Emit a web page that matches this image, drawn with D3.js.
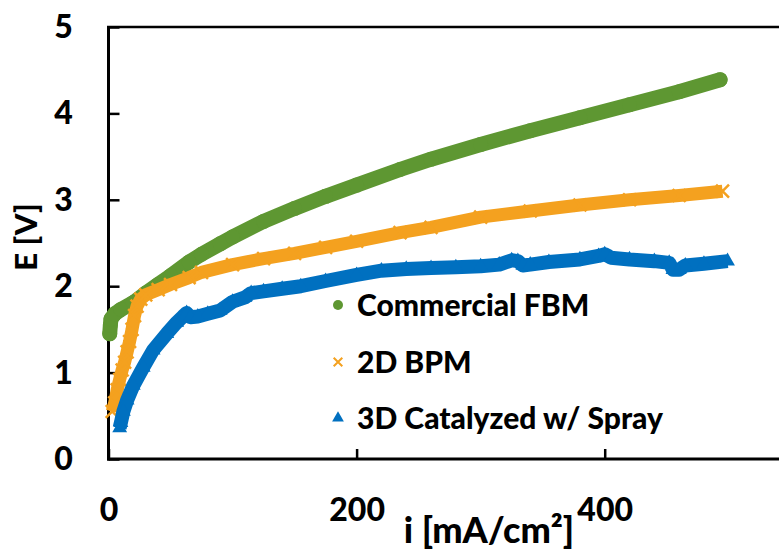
<!DOCTYPE html>
<html>
<head>
<meta charset="utf-8">
<script src="https://cdn.jsdelivr.net/npm/d3@7"></script>
<style>
  html, body { margin: 0; padding: 0; background: #fff; }
  svg { display: block; }
  text { font-family: Lato, "Open Sans", sans-serif; font-weight: 900; fill: #000; }
</style>
</head>
<body>
<svg id="chart" width="779" height="552"></svg>
<script>
// ---- data ----
const seriesNames = ["Commercial FBM", "2D BPM", "3D Catalyzed w/ Spray"];

const currentFBM = [1, 1.5, 2, 5, 10, 20, 30, 40, 50, 65, 75, 90, 100, 125, 150, 175, 200, 235, 260, 300, 340, 380, 420, 460, 493];
const voltageFBM = [1.45, 1.55, 1.62, 1.68, 1.73, 1.81, 1.92, 2.02, 2.12, 2.28, 2.37, 2.49, 2.57, 2.75, 2.9, 3.04, 3.17, 3.35, 3.47, 3.64, 3.8, 3.95, 4.1, 4.25, 4.39];

const currentBPM = [3, 5, 7, 9, 11, 13, 15, 17, 19, 21, 23, 26, 30, 40, 50, 65, 75, 100, 125, 150, 175, 200, 235, 260, 300, 340, 380, 420, 460, 495];
const voltageBPM = [0.55, 0.65, 0.8, 0.92, 1.03, 1.12, 1.24, 1.36, 1.5, 1.66, 1.77, 1.85, 1.9, 1.96, 2.02, 2.1, 2.16, 2.25, 2.32, 2.38, 2.45, 2.52, 2.62, 2.68, 2.8, 2.87, 2.94, 3.0, 3.05, 3.1];

const currentSpray = [9, 10, 12, 15, 20, 28, 36, 47, 55, 60, 63, 66, 72, 80, 90, 100, 110, 115, 125, 140, 155, 175, 200, 220, 240, 260, 280, 300, 315, 325, 330, 334, 340, 355, 380, 395, 400, 405, 420, 440, 452, 455, 460, 465, 480, 499];
const voltageSpray = [0.36, 0.42, 0.55, 0.68, 0.85, 1.06, 1.26, 1.45, 1.58, 1.65, 1.69, 1.64, 1.65, 1.68, 1.72, 1.82, 1.87, 1.92, 1.94, 1.97, 2.0, 2.06, 2.13, 2.18, 2.2, 2.21, 2.22, 2.23, 2.25, 2.3, 2.29, 2.24, 2.25, 2.28, 2.31, 2.35, 2.37, 2.33, 2.31, 2.29, 2.27, 2.19, 2.19, 2.24, 2.26, 2.29];

const xTicks = [0, 200, 400];
const yTicks = [0, 1, 2, 3, 4, 5];
const xTitle = "i [mA/cm²]";
const yTitle = "E [V]";

// ---- layout ----
const svg = d3.select("#chart");
const x = d3.scaleLinear().domain([0, 540.5]).range([108.5, 779]);
const y = d3.scaleLinear().domain([0, 5]).range([459, 27]);

const colors = ["#5E9732", "#F4A11F", "#0070C0"];
const mk = (xs, ys) => xs.map((v, i) => ({ x: v, y: ys[i] }));
const series = [
  { name: seriesNames[0], data: mk(currentFBM, voltageFBM), color: colors[0], type: "circle", width: 15 },
  { name: seriesNames[1], data: mk(currentBPM, voltageBPM), color: colors[1], type: "cross", width: 13 },
  { name: seriesNames[2], data: mk(currentSpray, voltageSpray), color: colors[2], type: "triangle", width: 14 }
];

// axes
const yAxis = d3.axisLeft(y).tickValues(yTicks).tickSize(0).tickPadding(0).tickFormat(d3.format("d"));
const gy = svg.append("g").attr("transform", `translate(${x(0)},0)`).call(yAxis);
gy.select(".domain").remove();
gy.selectAll(".tick text").attr("x", -45).attr("text-anchor", "middle").attr("dy", "0.33em")
  .style("font-size", "32px").style("font-family", "Lato").style("font-weight", "900");
gy.selectAll(".tick").append("line").attr("x1", 0).attr("x2", 11).attr("stroke", "#000").attr("stroke-width", 2.5);

const xAxis = d3.axisBottom(x).tickValues(xTicks).tickSize(0).tickPadding(0).tickFormat(d3.format("d"));
const gx = svg.append("g").attr("transform", `translate(0,${y(0)})`).call(xAxis);
gx.select(".domain").remove();
gx.selectAll(".tick text").attr("y", 51).attr("dy", "0.35em").attr("text-anchor", "middle")
  .style("font-size", "32px").style("font-family", "Lato").style("font-weight", "900");
gx.selectAll(".tick").append("line").attr("y1", 0).attr("y2", -10).attr("stroke", "#000").attr("stroke-width", 2.5);

// frame lines
svg.append("line").attr("x1", x(0)).attr("x2", x(0)).attr("y1", y(5) - 1).attr("y2", y(0) + 1.5)
  .attr("stroke", "#000").attr("stroke-width", 3);
svg.append("line").attr("x1", x(0) - 1.5).attr("x2", 779).attr("y1", y(0)).attr("y2", y(0))
  .attr("stroke", "#000").attr("stroke-width", 3);
svg.append("line").attr("x1", x(0) - 1.5).attr("x2", 779).attr("y1", y(5)).attr("y2", y(5))
  .attr("stroke", "#000").attr("stroke-width", 2.5);

// series
const line = d3.line().x(d => x(d.x)).y(d => y(d.y)).curve(d3.curveLinear);
const sym = {
  circle: d3.symbol().type(d3.symbolCircle).size(Math.PI * 7.5 * 7.5),
  cross: d3.symbol().type(d3.symbolX).size(110),
  triangle: d3.symbol().type(d3.symbolTriangle).size(95)
};

series.forEach(s => {
  const g = svg.append("g");
  g.append("path").attr("d", line(s.data)).attr("fill", "none").attr("stroke", s.color)
    .attr("stroke-width", s.width).attr("stroke-linejoin", "round")
    .attr("stroke-linecap", s.type === "circle" ? "round" : "butt");
  g.selectAll("path.m").data(s.data).enter().append("path").attr("class", "m")
    .attr("transform", d => `translate(${x(d.x)},${y(d.y)})`)
    .attr("d", sym[s.type]())
    .attr("fill", s.type === "cross" ? "none" : s.color)
    .attr("stroke", s.color)
    .attr("stroke-width", s.type === "cross" ? 2.5 : 0);
});

// legend
const legendY = [305, 362, 418];
const leg = svg.append("g");
series.forEach((s, i) => {
  let shape;
  if (s.type === "circle") shape = d3.symbol().type(d3.symbolCircle).size(Math.PI * 5 * 5);
  else if (s.type === "cross") shape = d3.symbol().type(d3.symbolX).size(50);
  else shape = d3.symbol().type(d3.symbolTriangle).size(60);
  leg.append("path").attr("transform", `translate(338,${legendY[i]})`).attr("d", shape())
    .attr("fill", s.type === "cross" ? "none" : s.color).attr("stroke", s.color)
    .attr("stroke-width", s.type === "cross" ? 2 : 0);
  leg.append("text").attr("x", 357).attr("y", legendY[i]).attr("dy", "0.36em")
    .style("font-size", "30px").text(s.name);
});

// titles
svg.append("text").attr("x", 489).attr("y", 543).attr("text-anchor", "middle")
  .style("font-size", "36px").text(xTitle);
svg.append("text").attr("transform", "translate(37,237) rotate(-90)").attr("text-anchor", "middle")
  .style("font-size", "31px").text(yTitle);
</script>
</body>
</html>
